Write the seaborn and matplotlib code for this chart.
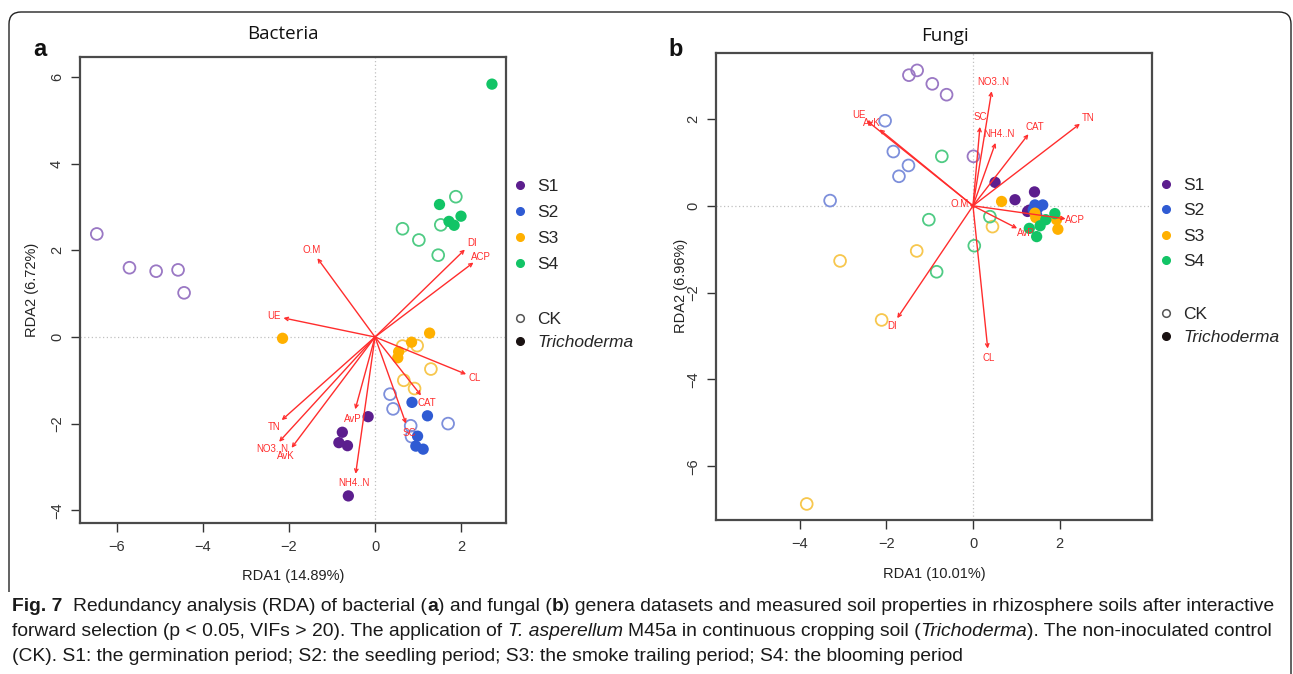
import numpy as np
import pandas as pd
import matplotlib
matplotlib.use("Agg")
import matplotlib.pyplot as plt
import seaborn as sns
from matplotlib.lines import Line2D
from matplotlib.path import Path
from matplotlib.patches import PathPatch
from matplotlib.transforms import IdentityTransform
from matplotlib import font_manager

# ---------------- data: panel a (Bacteria) ----------------
stages = ["S1", "S2", "S3", "S4"]

a_ck_s1_x = [-6.47, -5.71, -5.09, -4.58, -4.44]
a_ck_s1_y = [2.38, 1.60, 1.52, 1.55, 1.02]
a_tr_s1_x = [-0.16, -0.76, -0.84, -0.64, -0.62]
a_tr_s1_y = [-1.84, -2.20, -2.44, -2.51, -3.67]
a_ck_s2_x = [0.35, 0.42, 0.83, 0.85, 1.70]
a_ck_s2_y = [-1.32, -1.66, -2.05, -2.30, -2.00]
a_tr_s2_x = [0.86, 1.22, 0.99, 0.95, 1.12]
a_tr_s2_y = [-1.51, -1.82, -2.29, -2.52, -2.59]
a_ck_s3_x = [0.64, 0.98, 1.30, 0.67, 0.92]
a_ck_s3_y = [-0.21, -0.20, -0.74, -1.00, -1.19]
a_tr_s3_x = [-2.15, 1.27, 0.85, 0.55, 0.53]
a_tr_s3_y = [-0.03, 0.09, -0.12, -0.34, -0.48]
a_ck_s4_x = [1.88, 1.53, 0.64, 1.02, 1.47]
a_ck_s4_y = [3.24, 2.59, 2.50, 2.24, 1.89]
a_tr_s4_x = [2.72, 1.50, 2.00, 1.72, 1.84]
a_tr_s4_y = [5.84, 3.06, 2.79, 2.67, 2.58]

a_env = ["O.M", "UE", "DI", "ACP", "CL", "CAT", "SC", "NH4..N", "AvP", "TN", "NO3..N", "AvK"]
a_env_x = [-1.34, -2.13, 2.09, 2.29, 2.12, 1.07, 0.72, -0.45, -0.46, -2.17, -2.23, -1.94]
a_env_y = [1.82, 0.44, 2.02, 1.72, -0.86, -1.35, -2.00, -3.16, -1.67, -1.92, -2.42, -2.56]

# ---------------- data: panel b (Fungi) ----------------
b_ck_s1_x = [-1.48, -1.29, -0.94, -0.61, 0.01]
b_ck_s1_y = [3.01, 3.12, 2.81, 2.56, 1.14]
b_tr_s1_x = [0.51, 0.97, 1.42, 1.26, 1.30]
b_tr_s1_y = [0.54, 0.14, 0.32, -0.13, -0.10]
b_ck_s2_x = [-2.03, -1.84, -1.49, -1.71, -3.30]
b_ck_s2_y = [1.96, 1.25, 0.93, 0.68, 0.12]
b_tr_s2_x = [1.43, 1.61, 1.39, 1.47, 1.50]
b_tr_s2_y = [0.02, 0.02, -0.09, -0.21, -0.05]
b_ck_s3_x = [0.45, -1.30, -3.07, -2.11, -3.84]
b_ck_s3_y = [-0.48, -1.04, -1.27, -2.63, -6.87]
b_tr_s3_x = [0.66, 1.43, 1.93, 1.96, 1.45]
b_tr_s3_y = [0.10, -0.17, -0.32, -0.54, -0.27]
b_ck_s4_x = [-0.72, -1.02, 0.39, 0.03, -0.84]
b_ck_s4_y = [1.14, -0.32, -0.25, -0.92, -1.52]
b_tr_s4_x = [1.89, 1.68, 1.55, 1.47, 1.30]
b_tr_s4_y = [-0.18, -0.32, -0.46, -0.71, -0.52]

b_env = ["NO3..N", "SC", "NH4..N", "CAT", "TN", "UE", "AvK", "O.M", "ACP", "AvP", "DI", "CL"]
b_env_x = [0.43, 0.16, 0.52, 1.28, 2.47, -2.45, -2.16, -0.08, 2.14, 1.02, -1.75, 0.34]
b_env_y = [2.64, 1.82, 1.45, 1.65, 1.89, 1.96, 1.76, 0.01, -0.30, -0.52, -2.59, -3.29]

a_xticks = [-6, -4, -2, 0, 2]
a_yticks = [-4, -2, 0, 2, 4, 6]
b_xticks = [-4, -2, 0, 2]
b_yticks = [-6, -4, -2, 0, 2]


def build_df(prefix):
    g = globals()
    rows = []
    for treat, key in [("CK", "ck"), ("Trichoderma", "tr")]:
        for s in stages:
            xs = g[f"{prefix}_{key}_{s.lower()}_x"]
            ys = g[f"{prefix}_{key}_{s.lower()}_y"]
            for x, y in zip(xs, ys):
                rows.append(dict(RDA1=x, RDA2=y, stage=s, treat=treat))
    return pd.DataFrame(rows)


df_a = build_df("a")
df_b = build_df("b")

# ---------------- style ----------------
sns.set_theme(style="ticks")
plt.rcParams["font.family"] = ["Liberation Sans", "DejaVu Sans"]

fill_pal = {"S1": "#5C1E8E", "S2": "#2F5BD3", "S3": "#FFB000", "S4": "#12C466"}
open_pal = {"S1": "#9A78C4", "S2": "#7D8FDB", "S3": "#F7C74E", "S4": "#4FCB84"}
RED = "#FF2D2D"
SPINE = "#4a4a4a"

W, H = 1293, 674
fig = plt.figure(figsize=(W / 100, H / 100), dpi=100)
fig.patch.set_facecolor("white")


def fx(x):
    return x / W


def fy(y):
    return 1 - y / H


def add_axes_px(l, t, r, b):
    return fig.add_axes([l / W, 1 - b / H, (r - l) / W, (b - t) / H])


def panel(ax, df, env, ex, ey, xlim, ylim, xticks, yticks):
    ax.axhline(0, color="#c0c0c0", ls=(0, (1, 2)), lw=0.9, zorder=0)
    ax.axvline(0, color="#c0c0c0", ls=(0, (1, 2)), lw=0.9, zorder=0)
    ck = df[df.treat == "CK"]
    tr = df[df.treat == "Trichoderma"]
    sns.scatterplot(data=ck, x="RDA1", y="RDA2", hue="stage", hue_order=stages,
                    palette=open_pal, s=72, linewidth=1.3, legend=False, ax=ax, zorder=3)
    coll = ax.collections[-1]
    coll.set_edgecolors(coll.get_facecolors())
    coll.set_facecolors("none")
    sns.scatterplot(data=tr, x="RDA1", y="RDA2", hue="stage", hue_order=stages,
                    palette=fill_pal, s=66, linewidth=0, legend=False, ax=ax, zorder=3)
    for name, x, y in zip(env, ex, ey):
        ax.annotate("", xy=(x, y), xytext=(0, 0),
                    arrowprops=dict(arrowstyle="->", color=RED, lw=1.0,
                                    shrinkA=0, shrinkB=0, mutation_scale=6),
                    zorder=4)
        d = np.hypot(x, y)
        ux, uy = x / d, y / d
        ax.annotate(name, xy=(x, y), xytext=(ux * 7, uy * 7), textcoords="offset points",
                    ha="center", va="center", color=RED, fontsize=7, zorder=5)
    ax.set_xlim(xlim)
    ax.set_ylim(ylim)
    ax.set_xticks(xticks)
    ax.set_yticks(yticks)
    ax.set_xlabel("")
    ax.set_ylabel("")
    for sp in ax.spines.values():
        sp.set_visible(True)
        sp.set_color(SPINE)
        sp.set_linewidth(1.6)
    ax.tick_params(direction="out", length=6.5, width=1.0, colors="#333333",
                   labelsize=10.5, pad=6)
    ax.tick_params(axis="y", labelrotation=90, pad=5)
    for lab in ax.get_yticklabels():
        lab.set_va("center")


# panel a: pixel box -> data limits (origin at 375,337; 43 px / unit)
ax_a = add_axes_px(80, 57, 506, 523)
panel(ax_a, df_a, a_env, a_env_x, a_env_y,
      ((80 - 375) / 43.0, (506 - 375) / 43.0), ((337 - 523) / 43.3, (337 - 57) / 43.3),
      a_xticks, a_yticks)

ax_b = add_axes_px(716, 53, 1152, 520)
panel(ax_b, df_b, b_env, b_env_x, b_env_y,
      ((716 - 973) / 43.3, (1152 - 973) / 43.3), ((205.8 - 520) / 43.4, (205.8 - 53) / 43.4),
      b_xticks, b_yticks)

# axis labels / titles / panel letters
fig.text(fx(293), fy(576), "RDA1 (14.89%)", ha="center", va="center", fontsize=10.5, color="#222")
fig.text(fx(32), fy(290), "RDA2 (6.72%)", ha="center", va="center", rotation=90, fontsize=10.5, color="#222")
fig.text(fx(934), fy(574), "RDA1 (10.01%)", ha="center", va="center", fontsize=10.5, color="#222")
fig.text(fx(681), fy(286), "RDA2 (6.96%)", ha="center", va="center", rotation=90, fontsize=10.5, color="#222")
fig.text(fx(283), fy(34), "Bacteria", ha="center", va="center", fontsize=13.5,
         family=["Open Sans", "DejaVu Sans"], color="#111")
fig.text(fx(945), fy(36), "Fungi", ha="center", va="center", fontsize=13.5,
         family=["Open Sans", "DejaVu Sans"], color="#111")
fig.text(fx(40), fy(50), "a", ha="center", va="center", fontsize=17, fontweight="bold", color="#111")
fig.text(fx(676), fy(50), "b", ha="center", va="center", fontsize=17, fontweight="bold", color="#111")

# legends
for (lx, ly1, ly2, sp1) in [(513, 179, 312, 0.62), (1159, 178, 307, 0.58)]:
    h1 = [Line2D([], [], marker="o", ls="", markersize=5.5, color=fill_pal[s]) for s in stages]
    fig.legend(h1, stages, loc="upper left", bbox_to_anchor=(fx(lx), fy(ly1)),
               frameon=False, fontsize=12.5, handlelength=0.8, handletextpad=0.6,
               labelspacing=sp1, borderpad=0, borderaxespad=0)
    h2 = [Line2D([], [], marker="o", ls="", markersize=5.5, markerfacecolor="none",
                 markeredgecolor="#555555", markeredgewidth=1.1),
          Line2D([], [], marker="o", ls="", markersize=5.5, color="#1a1212")]
    leg2 = fig.legend(h2, ["CK", "Trichoderma"], loc="upper left", bbox_to_anchor=(fx(lx), fy(ly2)),
                      frameon=False, fontsize=12.5, handlelength=0.8, handletextpad=0.6,
                      labelspacing=0.42, borderpad=0, borderaxespad=0)
    leg2.get_texts()[1].set_style("italic")

# rounded frame
def Y(y):
    return H - y

verts = [(9, Y(592)), (9, Y(24)), (9, Y(12)), (21, Y(12)), (1279, Y(12)),
         (1291, Y(12)), (1291, Y(24)), (1291, Y(674))]
codes = [Path.MOVETO, Path.LINETO, Path.CURVE3, Path.CURVE3, Path.LINETO,
         Path.CURVE3, Path.CURVE3, Path.LINETO]
fig.add_artist(PathPatch(Path(verts, codes), fill=False, lw=1.0, edgecolor="#222",
                         transform=IdentityTransform()))

# caption
def has_font(name):
    try:
        font_manager.findfont(font_manager.FontProperties(family=name), fallback_to_default=False)
        return True
    except Exception:
        return False

cap_family = "Liberation Sans Narrow" if has_font("Liberation Sans Narrow") else "Liberation Sans"
STY = {"n": dict(family=cap_family),
       "b": dict(family=cap_family, fontweight="bold"),
       "i": dict(family=cap_family, style="italic")}

cap_lines = [
    [("Fig. 7", "b"), ("  Redundancy analysis (RDA) of bacterial (", "n"), ("a", "b"),
     (") and fungal (", "n"), ("b", "b"),
     (") genera datasets and measured soil properties in rhizosphere soils after interactive", "n")],
    [("forward selection (p < 0.05, VIFs > 20). The application of ", "n"), ("T. asperellum", "i"),
     (" M45a in continuous cropping soil (", "n"), ("Trichoderma", "i"),
     ("). The non-inoculated control", "n")],
    [("(CK). S1: the germination period; S2: the seedling period; S3: the smoke trailing period; S4: the blooming period", "n")],
]

rend = fig.canvas.get_renderer()


def text_w(s, style, size):
    t = fig.text(0, 0, s, fontsize=size, **STY[style])
    w = t.get_window_extent(rend).width
    t.remove()
    return w


def draw_line(segs, x0, ybase, size, keep=True):
    sp = text_w("a a", "n", size) - text_w("aa", "n", size)
    x = x0
    for s, style in segs:
        lead = len(s) - len(s.lstrip(" "))
        trail = len(s) - len(s.rstrip(" "))
        core = s.strip(" ")
        x += lead * sp
        t = fig.text(x / W, 1 - ybase / H, core, fontsize=size, ha="left", va="baseline",
                     color="#1a1a1a", **STY[style])
        x += t.get_window_extent(rend).width
        x += trail * sp
        if not keep:
            t.remove()
    return x - x0


w0 = draw_line(cap_lines[0], 12, 611, 10, keep=False)
cap_size = 10 * (1275 - 12) / w0
for line, yb in zip(cap_lines, [611, 636, 661]):
    draw_line(line, 12, yb, cap_size)

fig.savefig("out.png", dpi=100)
